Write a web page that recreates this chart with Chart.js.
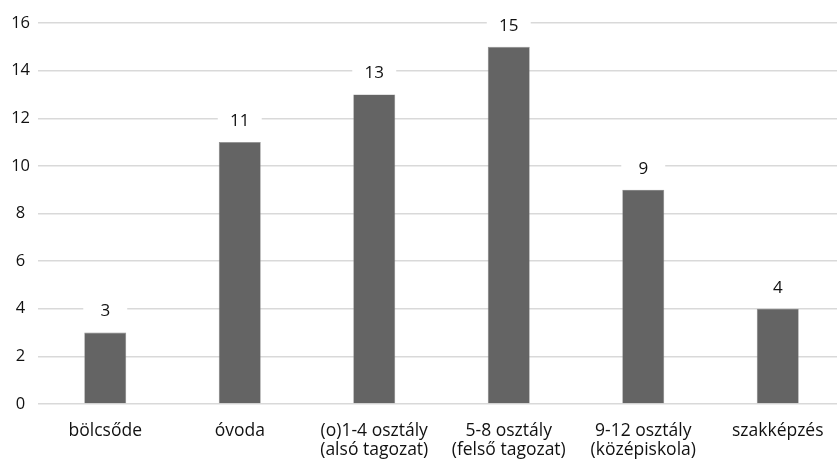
<!DOCTYPE html>
<html>
<head>
<meta charset="utf-8">
<script src="https://cdn.jsdelivr.net/npm/chart.js@4/dist/chart.umd.min.js"></script>
<style>
  html, body { margin: 0; padding: 0; background: #fff; overflow: hidden; }
  #wrap { width: 845px; height: 462px; position: relative; }
</style>
</head>
<body>
<div id="wrap"><canvas id="chart"></canvas></div>
<script>
// Chart values
const categories = [
    'bölcsőde',
    'óvoda',
    ['(o)1-4 osztály', '(alsó tagozat)'],
    ['5-8 osztály', '(felső tagozat)'],
    ['9-12 osztály', '(középiskola)'],
    'szakképzés'
];
const counts = [3, 11, 13, 15, 9, 4];
const yTicks = [0, 2, 4, 6, 8, 10, 12, 14, 16];

const fontFamily = '"Open Sans", "Noto Sans", sans-serif';

// Draw the value above each bar on a white box, cutting through the gridlines
const valueLabels = {
    id: 'valueLabels',
    afterDatasetsDraw: function(chart) {
        const ctx = chart.ctx;
        const meta = chart.getDatasetMeta(0);
        ctx.save();
        ctx.font = '17px ' + fontFamily;
        ctx.textAlign = 'center';
        ctx.textBaseline = 'middle';
        meta.data.forEach(function(bar, i) {
            const cx = bar.x;
            const cy = bar.y - 22;
            const w = bar.width + 2;
            const h = 24;
            ctx.fillStyle = '#ffffff';
            ctx.fillRect(cx - w / 2, cy - h / 2, w, h);
            ctx.fillStyle = '#111111';
            ctx.fillText(String(counts[i]), cx, cy + 1);
        });
        ctx.restore();
    }
};

new Chart(document.getElementById('chart').getContext('2d'), {
    type: 'bar',
    data: {
        labels: categories,
        datasets: [{
            data: counts,
            backgroundColor: '#646464',
            borderColor: '#8a8a8a',
            borderWidth: 0.6,
            barPercentage: 0.52,
            categoryPercentage: 0.6
        }]
    },
    options: {
        responsive: true,
        maintainAspectRatio: false,
        animation: false,
        layout: { padding: { top: 23, right: 0, bottom: 0, left: 0 } },
        plugins: {
            legend: { display: false },
            tooltip: { enabled: false }
        },
        scales: {
            x: {
                grid: { display: false, drawTicks: false },
                border: { display: false },
                ticks: {
                    color: '#111111',
                    font: { family: fontFamily, size: 17.5, lineHeight: 1.1 },
                    padding: 17,
                    maxRotation: 0,
                    autoSkip: false
                },
                afterFit: function(axis) { axis.height = 58; }
            },
            y: {
                min: 0,
                max: 16,
                afterBuildTicks: function(axis) {
                    axis.ticks = yTicks.map(v => ({ value: v }));
                },
                grid: { color: '#d9d9d9', lineWidth: 1.5, drawTicks: false },
                border: { display: false },
                ticks: {
                    color: '#111111',
                    font: { family: fontFamily, size: 16.5 },
                    crossAlign: 'center',
                    padding: 8
                },
                afterFit: function(axis) { axis.width = 38; }
            }
        }
    },
    plugins: [valueLabels]
});
</script>
</body>
</html>
